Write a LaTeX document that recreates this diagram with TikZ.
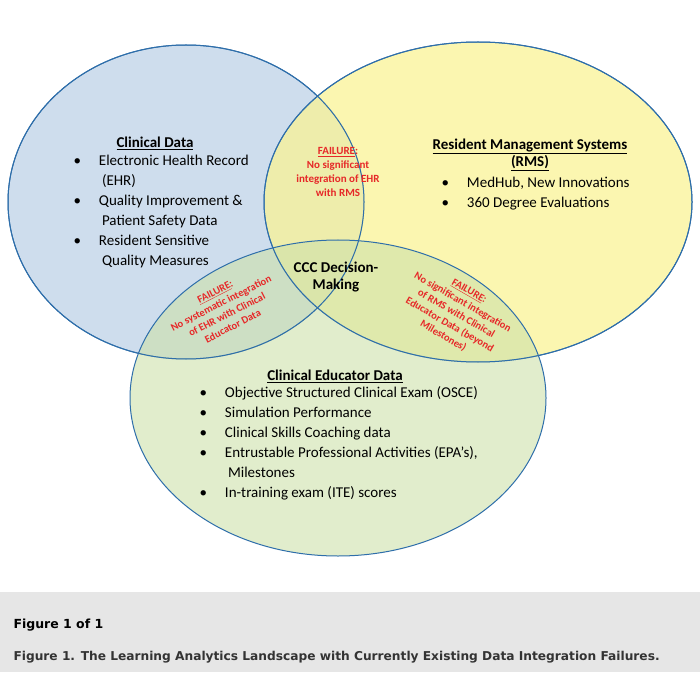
\documentclass[tikz,border=0pt]{standalone}
\usepackage{fontspec}
\setmainfont{Carlito}
\newfontfamily\capfont{DejaVu Sans}
\usetikzlibrary{positioning}
\definecolor{blueset}{RGB}{190,210,232}
\definecolor{yellowset}{RGB}{250,243,150}
\definecolor{greenset}{RGB}{205,225,170}
\definecolor{setline}{RGB}{46,110,170}
\definecolor{failred}{RGB}{230,40,40}
\definecolor{capband}{RGB}{230,230,230}
\tikzset{
  setellipse/.style={draw=setline, line width=1pt, fill opacity=0.75, draw opacity=1},
  settitle/.style={font=\fontsize{15}{17}\selectfont\bfseries, align=center},
  setlist/.style={font=\fontsize{15}{20}\selectfont, align=left, anchor=north west},
  failnote/.style={text=failred, font=\fontsize{11}{14}\selectfont\bfseries, align=center},
}
\newcommand{\bul}{\textbullet\hspace{1.2em}}
\begin{document}
\begin{tikzpicture}[x=1pt, y=-1pt]
  \useasboundingbox (0,0) rectangle (700,700);
  \fill[white] (0,0) rectangle (700,700);
  % sets
  \fill[blueset, setellipse] (186,202) ellipse [x radius=178, y radius=157];
  \fill[yellowset, setellipse] (478,202) ellipse [x radius=214, y radius=160];
  \fill[greenset, setellipse, fill opacity=0.6] (338,398) ellipse [x radius=208, y radius=158];
  \draw[setline, line width=1pt] (186,202) ellipse [x radius=178, y radius=157];
  \draw[setline, line width=1pt] (478,202) ellipse [x radius=214, y radius=160];

  % clinical data
  \node (clin) [settitle] at (155,143) {\underline{Clinical Data}};
  \node (clinlist) [setlist] at (70,152) {\bul Electronic Health Record\\\hspace{1.9em}(EHR)\\\bul Quality Improvement \&\\\hspace{1.9em}Patient Safety Data\\\bul Resident Sensitive\\\hspace{1.9em}Quality Measures};
  % RMS
  \node (rms) [settitle] at (530,155) {\underline{Resident Management Systems}\\\underline{(RMS)}};
  \node (rmslist) [setlist] at (438,174) {\bul MedHub, New Innovations\\\bul 360 Degree Evaluations};
  % educator
  \node (edu) [settitle] at (335,376) {\underline{Clinical Educator Data}};
  \node (edulist) [setlist] at (196,383) {\bul Objective Structured Clinical Exam (OSCE)\\\bul Simulation Performance\\\bul Clinical Skills Coaching data\\\bul Entrustable Professional Activities (EPA's),\\\hspace{1.9em}Milestones\\\bul In-training exam (ITE) scores};
  % centre
  \node (ccc) [settitle] at (336,277) {CCC Decision-\\Making};
  % failures
  \node (failehr) [failnote] at (338,172) {\underline{FAILURE}:\\No significant\\integration of EHR\\with RMS};
  \node (failedu) [failnote, rotate=27, font=\fontsize{10.5}{13}\selectfont\bfseries] at (224,309) {\underline{FAILURE}:\\No systematic integration\\of EHR with Clinical\\Educator Data};
  \node (failrms) [failnote, rotate=-30, font=\fontsize{10.5}{13}\selectfont\bfseries] at (456,314) {\underline{FAILURE}:\\No significant integration\\of RMS with Clinical\\Educator Data (beyond\\Milestones)};

  % caption
  \fill[capband] (0,592) rectangle (700,672);
  \node (figno) [anchor=west, font=\capfont\fontsize{12.5}{14}\selectfont\bfseries] at (10,625) {Figure 1 of 1};
  \node (caption) [anchor=west, font=\capfont\fontsize{12.2}{14}\selectfont\bfseries, text=black!80] at (10,657) {Figure 1. The Learning Analytics Landscape with Currently Existing Data Integration Failures.};
\end{tikzpicture}
\end{document}
